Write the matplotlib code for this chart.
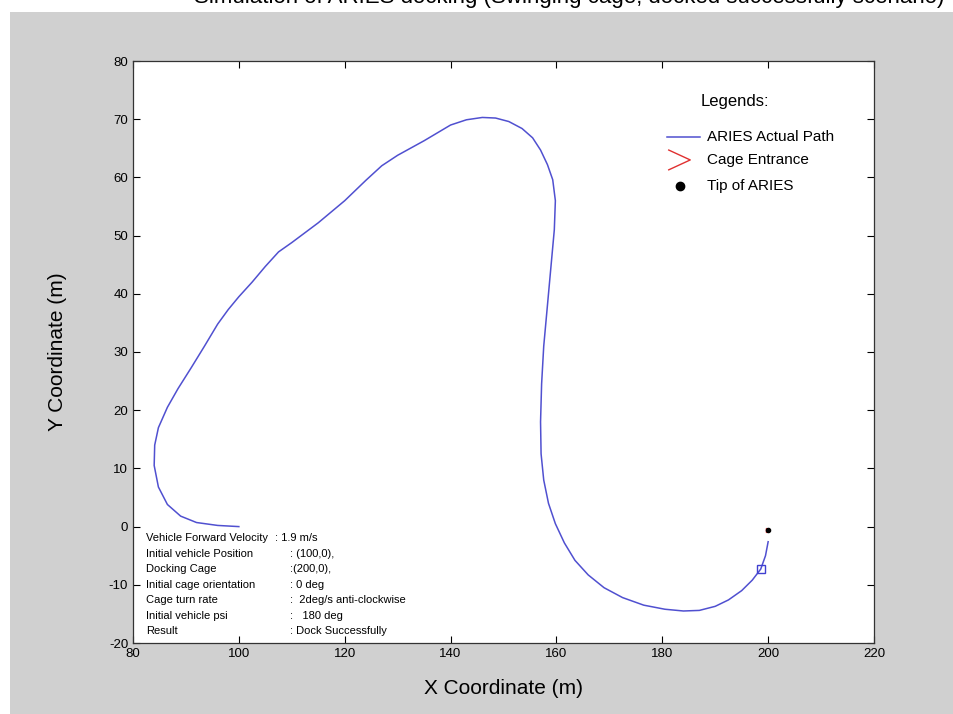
import numpy as np
import matplotlib.pyplot as plt
from matplotlib.patches import Rectangle

plt.rcParams['axes.unicode_minus'] = False

# path of ARIES
path_x = [100, 96, 92, 89, 86.5, 84.8, 84.0, 84.1, 84.8, 86.5, 88.5, 91, 93.5, 96, 98,
          100, 102.5, 105, 107.5, 110, 115, 120, 124, 127, 130, 135, 140, 143, 146,
          148.5, 151, 153.5, 155.5, 157, 158.3, 159.3, 159.8, 159.6, 159.0, 158.3, 157.6,
          157.2, 157.0, 157.1, 157.6, 158.5, 159.8, 161.5, 163.5, 166, 169, 172.5, 176.5,
          180.5, 184, 187, 190, 192.5, 195, 197, 198.6, 199.5, 200.0]
path_y = [0, 0.2, 0.7, 1.8, 3.8, 6.8, 10.5, 14.0, 17.0, 20.5, 23.7, 27.3, 31.0, 34.8, 37.3,
          39.5, 42.0, 44.7, 47.2, 48.8, 52.2, 56.0, 59.5, 62.0, 63.8, 66.3, 69.0, 69.9, 70.3,
          70.2, 69.6, 68.4, 66.8, 64.7, 62.2, 59.6, 56.0, 51.0, 45.0, 38.0, 31.0,
          24.5, 18.0, 12.5, 8.0, 4.0, 0.5, -2.8, -5.8, -8.3, -10.5, -12.2, -13.5,
          -14.2, -14.5, -14.4, -13.7, -12.6, -11.0, -9.2, -7.3, -5.0, -2.6]
square_x, square_y = [198.6], [-7.3]
tip_x, tip_y = [200.0], [-0.6]

info_labels = ["Vehicle Forward Velocity", "Initial vehicle Position", "Docking Cage",
               "Initial cage orientation", "Cage turn rate", "Initial vehicle psi", "Result"]
info_values = [": 1.9 m/s", ": (100,0),", ":(200,0),", ": 0 deg",
               ":  2deg/s anti-clockwise", ":   180 deg", ": Dock Successfully"]
legend_labels = ["ARIES Actual Path", "Cage Entrance", "Tip of ARIES"]

arial = ['Liberation Sans', 'DejaVu Sans']
path_color = '#5050d0'

fig = plt.figure(figsize=(9.54, 7.14), dpi=100, facecolor='white')
fig.patches.append(Rectangle((10/954, 0), 1, (714-12)/714, transform=fig.transFigure,
                             facecolor='#d0d0d0', edgecolor='none', zorder=-10))
fig.text(0.597, 1 + 2/714, "Simulation of ARIES docking (Swinging cage, docked successfully scenario)",
         ha='center', va='center', fontsize=16, family=arial, color='black')

ax = fig.add_axes([133/954, 71/714, 741/954, 582/714])
ax.set_zorder(5)
ax.plot(path_x, path_y, color=path_color, lw=1.1)
ax.plot(square_x, square_y, 's', mfc='none', mec='#4040d0', ms=6, mew=1.0)
ax.plot(tip_x, tip_y, '>', color='#e03030', ms=3, mfc='none', zorder=4)
ax.plot(tip_x, tip_y, 'o', color='black', ms=3, zorder=5)

ax.set_xlim(80, 220)
ax.set_ylim(-20, 80)
ax.set_xticks(np.arange(80, 221, 20))
ax.set_yticks(np.arange(-20, 81, 10))
ax.tick_params(direction='in', top=True, right=True, length=5, labelsize=9.5, width=0.8)
for lab in ax.get_xticklabels() + ax.get_yticklabels():
    lab.set_family(arial)
for s in ax.spines.values():
    s.set_linewidth(0.9)
    s.set_color('#333333')

ax.set_xlabel("X Coordinate (m)", fontsize=15, family=arial, labelpad=14)
ax.set_ylabel("Y Coordinate (m)", fontsize=15, family=arial, labelpad=30)

for i, (lab, val) in enumerate(zip(info_labels, info_values)):
    yy = -2.0 - i * 2.66
    ax.text(82.5, yy, lab, fontsize=8, family=arial, va='center')
    ax.text(106.8 if i == 0 else 109.6, yy, val, fontsize=8, family=arial, va='center')

# hand-placed legend, as in the figure
tr = ax.transAxes
ax.text(0.812, 0.931, "Legends:", transform=tr, ha='center', va='center',
        fontsize=12, family=arial)
ax.plot([0.721, 0.765], [0.869, 0.869], transform=tr, color=path_color, lw=1.1)
ax.plot([0.723, 0.752, 0.723], [0.847, 0.830, 0.813], transform=tr, color='#e03030', lw=1.0)
ax.plot([0.738], [0.786], 'o', transform=tr, color='black', ms=6)
for yy, lab in zip([0.869, 0.830, 0.786], legend_labels):
    ax.text(0.775, yy, lab, transform=tr, va='center', fontsize=11, family=arial)

fig.savefig('out.png', dpi=100, facecolor=fig.get_facecolor())
